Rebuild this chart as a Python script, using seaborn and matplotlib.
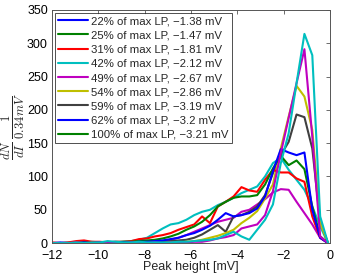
import numpy as np
import pandas as pd
import matplotlib
matplotlib.use("Agg")
import matplotlib.pyplot as plt
from matplotlib.lines import Line2D
import seaborn as sns

# bin centres of the peak-height histogram (mV), right to left
peak_height = [-0.08, -0.42, -0.76, -1.10, -1.44, -1.78, -2.12, -2.46, -2.80, -3.14,
               -3.48, -3.82, -4.16, -4.50, -4.84, -5.18, -5.52, -5.86, -6.20, -6.54,
               -6.88, -7.22, -7.56, -7.90, -8.24, -8.58, -8.92, -9.26, -9.60, -9.94,
               -10.28, -10.62, -10.96, -11.30, -11.64, -11.98]

blue_curve = [0, 8, 50, 136, 132, 136, 141, 108, 70, 52, 45, 42, 40, 45, 35, 26, 20, 15,
              12, 8, 6, 4, 3, 2, 2, 1, 1, 1, 0, 1, 0, 1, 0, 0, 1, 0]
green_curve = [0, 10, 55, 111, 124, 117, 131, 112, 88, 72, 70, 70, 68, 62, 55, 42, 32, 25,
               20, 14, 10, 7, 5, 4, 3, 2, 2, 1, 1, 1, 0, 1, 0, 0, 0, 0]
red_curve = [0, 8, 40, 92, 97, 106, 106, 110, 95, 77, 79, 84, 70, 62, 55, 30, 40, 28,
             24, 20, 15, 12, 10, 7, 6, 3, 2, 2, 1, 2, 2, 4, 3, 1, 0, 1]
cyan_high = [0, 40, 282, 314, 240, 165, 120, 58, 35, 20, 5, 10, 17, 12, 7, 5, 4, 3,
             2, 2, 1, 1, 1, 1, 2, 1, 1, 2, 3, 1, 1, 0, 1, 0, 0, 0]
magenta_high = [0, 10, 160, 291, 240, 188, 135, 78, 42, 28, 25, 22, 12, 9, 7, 4, 2, 2,
                1, 1, 1, 0, 1, 0, 0, 1, 0, 0, 0, 1, 0, 0, 1, 0, 0, 0]
yellow_curve = [0, 30, 170, 220, 236, 190, 142, 88, 67, 48, 38, 30, 20, 15, 11, 8, 5, 3,
                2, 1, 1, 0, 0, 0, 0, 0, 0, 0, 0, 0, 0, 0, 0, 0, 0, 0]
gray_curve = [0, 32, 142, 189, 193, 152, 132, 105, 72, 55, 47, 42, 40, 17, 27, 20, 13, 8,
              5, 4, 3, 2, 2, 1, 1, 0, 1, 0, 0, 0, 0, 0, 0, 0, 0, 0]
cyan_low = [0, 25, 55, 80, 95, 110, 128, 120, 100, 85, 80, 75, 68, 62, 57, 50, 47, 42,
            35, 30, 28, 22, 15, 8, 5, 3, 2, 2, 1, 1, 2, 1, 1, 1, 0, 0]
magenta_low = [0, 8, 28, 45, 62, 80, 81, 76, 66, 58, 50, 47, 38, 35, 32, 27, 22, 17,
               12, 8, 5, 3, 2, 1, 1, 1, 0, 0, 1, 0, 0, 0, 0, 0, 0, 0]

legend_labels = ["22% of max LP, \u22121.38 mV", "25% of max LP, \u22121.47 mV",
                 "31% of max LP, \u22121.81 mV", "42% of max LP, \u22122.12 mV",
                 "49% of max LP, \u22122.67 mV", "54% of max LP, \u22122.86 mV",
                 "59% of max LP, \u22123.19 mV", "62% of max LP, \u22123.2 mV",
                 "100% of max LP, \u22123.21 mV"]

BLUE = (0, 0, 1)
GREEN = (0, 0.5, 0)
RED = (1, 0, 0)
CYAN = (0, 0.75, 0.75)
MAGENTA = (0.75, 0, 0.75)
YELLOW = (0.75, 0.75, 0)
GRAY = (0.25, 0.25, 0.25)

legend_colors = [BLUE, GREEN, RED, CYAN, MAGENTA, YELLOW, GRAY, BLUE, GREEN]

curves = {
    "cyan_low": (cyan_low, CYAN),
    "magenta_low": (magenta_low, MAGENTA),
    "gray": (gray_curve, GRAY),
    "yellow": (yellow_curve, YELLOW),
    "red": (red_curve, RED),
    "green": (green_curve, GREEN),
    "blue": (blue_curve, BLUE),
    "magenta_high": (magenta_high, MAGENTA),
    "cyan_high": (cyan_high, CYAN),
}


def main():
    rows = []
    for name, (vals, _) in curves.items():
        for x, y in zip(peak_height, vals):
            rows.append({"curve": name, "x": x, "y": y})
    df = pd.DataFrame(rows)

    sns.set_style("white")
    plt.rcParams["font.family"] = ["Liberation Sans", "DejaVu Sans"]
    plt.rcParams["mathtext.fontset"] = "cm"

    fig = plt.figure(figsize=(3.38, 2.75), dpi=100)
    ax = fig.add_axes([0.154, 0.116, 0.822, 0.848])

    palette = {name: col for name, (_, col) in curves.items()}
    sns.lineplot(data=df, x="x", y="y", hue="curve", palette=palette,
                 hue_order=list(curves.keys()), linewidth=1.5, legend=False,
                 sort=True, estimator=None, ax=ax)

    ax.set_xlim(-12, 0)
    ax.set_ylim(0, 350)
    ax.set_xticks(range(-12, 1, 2))
    ax.set_yticks(range(0, 351, 50))
    ax.set_xticklabels(["\u221212", "\u221210", "\u22128", "\u22126", "\u22124", "\u22122", "0"])
    ax.tick_params(direction="in", length=3, width=0.6, labelsize=9, colors="#555555",
                   labelcolor="black", top=True, right=True, pad=3)
    ax.tick_params(axis="x", pad=5)
    for sp in ax.spines.values():
        sp.set_visible(True)
        sp.set_color("#555555")
        sp.set_linewidth(0.7)

    ax.set_xlabel("Peak height [mV]", fontsize=9, labelpad=-1)
    ax.set_ylabel(r"$\frac{dN}{dI}\,\frac{1}{0.34mV}$", fontsize=13, labelpad=0)

    handles = [Line2D([0], [0], color=c, lw=1.5) for c in legend_colors]
    leg = ax.legend(handles, legend_labels, loc="upper left", fontsize=8.2,
                    frameon=True, fancybox=False, borderpad=0.3, labelspacing=0.37,
                    handlelength=2.6, handletextpad=0.25, borderaxespad=0.25)
    leg.get_frame().set_edgecolor("black")
    leg.get_frame().set_linewidth(0.6)

    fig.savefig("out.png", dpi=100)


if __name__ == "__main__":
    main()
